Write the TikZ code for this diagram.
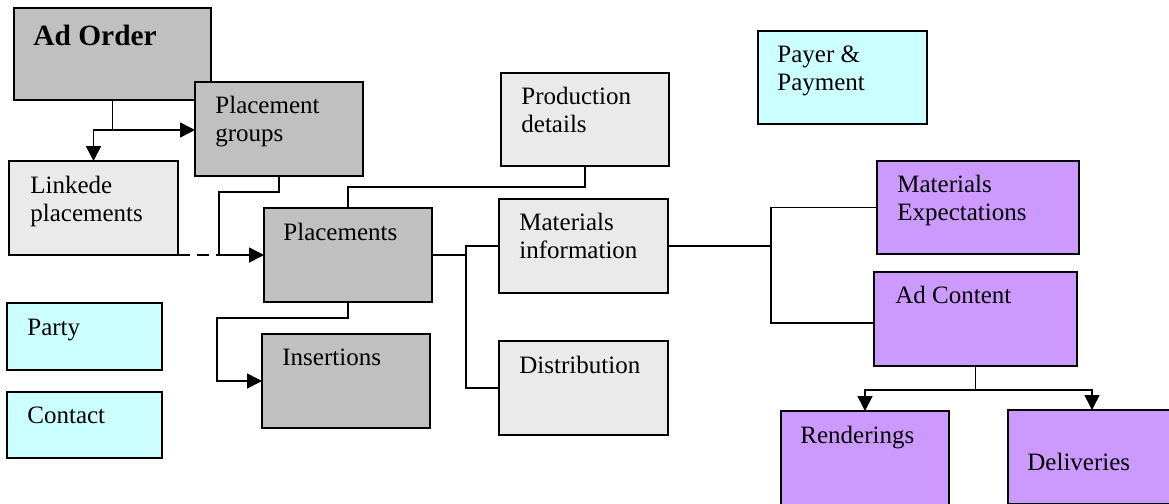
\documentclass[tikz,border=0pt]{standalone}
\usepackage{fontspec}
\setmainfont{Liberation Serif}
\usetikzlibrary{arrows.meta}
\definecolor{darkbox}{HTML}{C0C0C0}
\definecolor{lightbox}{HTML}{EAEAEA}
\definecolor{cyanbox}{HTML}{CCFFFF}
\definecolor{purplebox}{HTML}{CC99FF}
\begin{document}
\begin{tikzpicture}[x=0.5pt,y=-0.5pt,
  box/.style={draw=black, line width=1pt, inner sep=0pt, outer sep=0pt},
  dbox/.style={box, fill=darkbox},
  lbox/.style={box, fill=lightbox},
  cbox/.style={box, fill=cyanbox},
  pbox/.style={box, fill=purplebox},
  txt/.style={anchor=base west, inner sep=0pt, font=\fontsize{12.5}{14}\selectfont},
  bigtxt/.style={anchor=base west, inner sep=0pt, font=\fontsize{14.7}{17}\selectfont\bfseries},
  conn/.style={draw=black, line width=0.8pt},
  arr/.style={conn, -{Triangle[length=7.5pt,width=7.5pt]}},
  dashconn/.style={conn, dash pattern=on 6pt off 3.5pt}
]
\useasboundingbox (0,0) rectangle (1169,504);

% boxes
\node[dbox, minimum width=98.5pt, minimum height=46pt] (adorder) at (112.5,54) {};
\node[bigtxt] (adorder-t) at (33,45) {Ad Order};
\node[dbox, minimum width=84pt, minimum height=47pt] (pgroups) at (279,129) {};
\node[txt] (pgroups-t) at (215,113) {\begin{tabular}[t]{@{}l@{}}Placement\\groups\end{tabular}};
\node[lbox, minimum width=84.5pt, minimum height=47pt] (linked) at (93.5,208) {};
\node[txt] (linked-t) at (30,193) {\begin{tabular}[t]{@{}l@{}}Linkede\\placements\end{tabular}};
\node[dbox, minimum width=84pt, minimum height=47pt] (placements) at (348,255) {};
\node[txt] (placements-t) at (283,240) {Placements};
\node[dbox, minimum width=84pt, minimum height=47pt] (insertions) at (346,381) {};
\node[txt] (insertions-t) at (282,365) {Insertions};
\node[lbox, minimum width=84pt, minimum height=46.5pt] (proddet) at (585,119.5) {};
\node[txt] (proddet-t) at (521,104) {\begin{tabular}[t]{@{}l@{}}Production\\details\end{tabular}};
\node[lbox, minimum width=84.5pt, minimum height=47pt] (matinfo) at (583.5,246) {};
\node[txt] (matinfo-t) at (519,230) {\begin{tabular}[t]{@{}l@{}}Materials\\information\end{tabular}};
\node[lbox, minimum width=84.5pt, minimum height=47pt] (distr) at (583.5,388) {};
\node[txt] (distr-t) at (519,373) {Distribution};
\node[cbox, minimum width=84.5pt, minimum height=46.5pt] (payer) at (842.5,77.5) {};
\node[txt] (payer-t) at (777,62) {\begin{tabular}[t]{@{}l@{}}Payer \&\\Payment\end{tabular}};
\node[pbox, minimum width=101pt, minimum height=46.5pt] (matexp) at (978,207.5) {};
\node[txt] (matexp-t) at (897,192) {\begin{tabular}[t]{@{}l@{}}Materials\\Expectations\end{tabular}};
\node[pbox, minimum width=101.5pt, minimum height=47pt] (adcontent) at (975.5,319) {};
\node[txt] (adcontent-t) at (895,303) {Ad Content};
\node[pbox, minimum width=84pt, minimum height=47pt] (renderings) at (865,458) {};
\node[txt] (renderings-t) at (800,443) {Renderings};
\node[pbox, minimum width=84pt, minimum height=47pt] (deliveries) at (1092,457) {};
\node[txt] (deliveries-t) at (1027,470) {Deliveries};
\node[cbox, minimum width=77.5pt, minimum height=33.5pt] (party) at (84.5,336.5) {};
\node[txt] (party-t) at (27,335) {Party};
\node[cbox, minimum width=77.5pt, minimum height=33pt] (contact) at (84.5,425) {};
\node[txt] (contact-t) at (27,423) {Contact};

% junction coordinates
\coordinate (j1) at (112.5,130);
\coordinate (k) at (219,192);
\coordinate (m) at (585,187);
\coordinate (n) at (217,318);
\coordinate (p) at (466,255);
\coordinate (q) at (771,246);
\coordinate (r) at (975.5,390);

% connectors
\draw[conn] (adorder.south) -- (j1);
\draw[arr] (j1) -- (j1 -| pgroups.west);
\draw[arr] (j1) -| (linked.north);
\draw[arr] (pgroups.south) |- (k) |- (placements.west);
\draw[dashconn] (linked.south east) -- (k |- placements.west);
\draw[conn] (placements.north) |- (m) -- (proddet.south);
\draw[arr] (placements.south) |- (n) |- (insertions.west);
\draw[conn] (placements.east) -- (p);
\draw[conn] (p) |- (matinfo.west);
\draw[conn] (p) |- (distr.west);
\draw[conn] (matinfo.east) -- (q);
\draw[conn] (q) |- (matexp.west);
\draw[conn] (q) |- ([yshift=-2pt]adcontent.west);
\draw[conn] (adcontent.south) -- (r);
\draw[arr] (r) -| (renderings.north);
\draw[arr] (r) -| (deliveries.north);
\end{tikzpicture}
\end{document}
